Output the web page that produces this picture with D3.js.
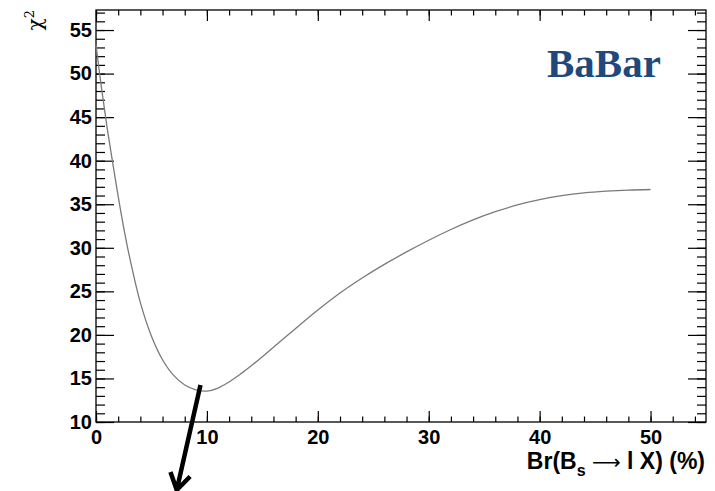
<!DOCTYPE html>
<html>
<head>
<meta charset="utf-8">
<script src="https://cdn.jsdelivr.net/npm/d3@7/dist/d3.min.js"></script>
<style>
  html, body { margin: 0; padding: 0; background: #fff; }
  svg { display: block; }
  .tick text { font-family: "Liberation Sans", Arial, sans-serif; font-weight: bold; font-size: 20px; fill: #000; }
</style>
</head>
<body>
<svg id="chart" width="715" height="491"></svg>
<script>
// Chi-square scan versus the B_s -> l X branching fraction (%)
const brValues = [0, 0.5, 1, 1.5, 2, 2.5, 3, 4, 5, 6, 7, 8, 9, 10, 11, 12, 13, 14, 15, 16, 18, 20,
                  22, 24, 26, 28, 30, 32, 34, 36, 38, 40, 42, 44, 46, 48, 50];
const chi2Values = [53.3, 48.3, 43.8, 39.8, 35.9, 32.3, 29.1, 23.7, 19.85, 17.15, 15.35, 14.25, 13.7, 13.55,
                    13.9, 14.6, 15.48, 16.46, 17.5, 18.57, 20.73, 22.85, 24.81, 26.53, 28.09, 29.53, 30.87,
                    32.1, 33.2, 34.14, 34.92, 35.52, 35.98, 36.3, 36.5, 36.63, 36.69];

const xMajorTicks = [0, 10, 20, 30, 40, 50];
const xMinorTicks = d3.range(0, 55.01, 2);
const yMajorTicks = [10, 15, 20, 25, 30, 35, 40, 45, 50, 55];
const yMinorTicks = d3.range(10, 57.3, 1);

// Annotation arrow pointing down from the minimum (data coordinates)
const arrowFrom = [9.42, 14.25];
const arrowTo = [7.28, 2.19];

const svg = d3.select("#chart");
const frameL = 96, frameR = 706, frameT = 10, frameB = 422;

const x = d3.scaleLinear().domain([0, 55]).range([frameL, frameR]);
const y = d3.scaleLinear().domain([10, 57.3]).range([frameB, frameT]);

// Frame
svg.append("rect")
  .attr("x", frameL).attr("y", frameT)
  .attr("width", frameR - frameL).attr("height", frameB - frameT)
  .attr("fill", "none").attr("stroke", "#000").attr("stroke-width", 1.3);

function styleAxis(g) {
  g.select(".domain").remove();
  g.selectAll(".tick line").attr("stroke", "#000").attr("stroke-width", 1.2);
}

// Bottom axis (ticks pointing inward)
svg.append("g").attr("transform", `translate(0,${frameB})`)
  .call(d3.axisBottom(x).tickValues(xMinorTicks).tickSize(-5.5).tickFormat(""))
  .call(styleAxis);
svg.append("g").attr("transform", `translate(0,${frameB})`)
  .call(d3.axisBottom(x).tickValues(xMajorTicks).tickSize(-11).tickPadding(8).tickFormat(d3.format("d")))
  .call(styleAxis);

// Top axis mirror
svg.append("g").attr("transform", `translate(0,${frameT})`)
  .call(d3.axisTop(x).tickValues(xMinorTicks).tickSize(-5.5).tickFormat(""))
  .call(styleAxis);
svg.append("g").attr("transform", `translate(0,${frameT})`)
  .call(d3.axisTop(x).tickValues(xMajorTicks).tickSize(-11).tickFormat(""))
  .call(styleAxis);

// Left axis
svg.append("g").attr("transform", `translate(${frameL},0)`)
  .call(d3.axisLeft(y).tickValues(yMinorTicks).tickSize(-9).tickFormat(""))
  .call(styleAxis);
svg.append("g").attr("transform", `translate(${frameL},0)`)
  .call(d3.axisLeft(y).tickValues(yMajorTicks).tickSize(-18).tickPadding(4).tickFormat(d3.format("d")))
  .call(styleAxis);

// Right axis mirror
svg.append("g").attr("transform", `translate(${frameR},0)`)
  .call(d3.axisRight(y).tickValues(yMinorTicks).tickSize(-9).tickFormat(""))
  .call(styleAxis);
svg.append("g").attr("transform", `translate(${frameR},0)`)
  .call(d3.axisRight(y).tickValues(yMajorTicks).tickSize(-18).tickFormat(""))
  .call(styleAxis);

// Chi-square curve
const pts = brValues.map((v, i) => [v, chi2Values[i]]);
svg.append("path")
  .datum(pts)
  .attr("fill", "none")
  .attr("stroke", "#7a7a7a")
  .attr("stroke-width", 1.3)
  .attr("d", d3.line().x(d => x(d[0])).y(d => y(d[1])).curve(d3.curveCatmullRom.alpha(0.5)));

// Axis titles
const xt = svg.append("text")
  .attr("x", 705).attr("y", 469)
  .attr("text-anchor", "end")
  .attr("font-family", "Liberation Sans, Arial, sans-serif")
  .attr("font-weight", "bold")
  .attr("font-size", 23)
  .attr("fill", "#000");
xt.append("tspan").text("Br(B");
xt.append("tspan").attr("font-size", 16).attr("dy", 7).text("s");
xt.append("tspan").attr("dy", -7).text(" ");
xt.append("tspan").attr("font-family", "DejaVu Sans, sans-serif").attr("font-weight", "normal")
  .attr("font-size", 20).text("\u27F6");
xt.append("tspan").text(" l X) (%)");

const yt = svg.append("text")
  .attr("transform", "translate(42,10) rotate(-90)")
  .attr("text-anchor", "end")
  .attr("font-family", "DejaVu Serif, Liberation Serif, serif")
  .attr("font-size", 20)
  .attr("fill", "#000");
yt.append("tspan").text("\u03C7");
yt.append("tspan").attr("font-size", 13).attr("dy", -8).text("2");

// Experiment tag
svg.append("text")
  .attr("x", 547).attr("y", 77)
  .attr("font-family", "Liberation Serif, Times New Roman, serif")
  .attr("font-weight", "bold")
  .attr("font-size", 41)
  .attr("fill", "#1F497D")
  .text("BaBar");

// Arrow annotation
const ax0 = x(arrowFrom[0]), ay0 = y(arrowFrom[1]);
const ax1 = x(arrowTo[0]), ay1 = y(arrowTo[1]);
const ang = Math.atan2(ay0 - ay1, ax0 - ax1);
const headLen = 19, spread = 32 * Math.PI / 180;
const h1 = [ax1 + headLen * Math.cos(ang - spread), ay1 + headLen * Math.sin(ang - spread)];
const h2 = [ax1 + headLen * Math.cos(ang + spread), ay1 + headLen * Math.sin(ang + spread)];
const arrow = d3.path();
arrow.moveTo(ax0, ay0); arrow.lineTo(ax1, ay1);
arrow.moveTo(h1[0], h1[1]); arrow.lineTo(ax1, ay1); arrow.lineTo(h2[0], h2[1]);
svg.append("path")
  .attr("d", arrow.toString())
  .attr("fill", "none")
  .attr("stroke", "#000")
  .attr("stroke-width", 4.5)
  .attr("stroke-linejoin", "miter");
</script>
</body>
</html>
